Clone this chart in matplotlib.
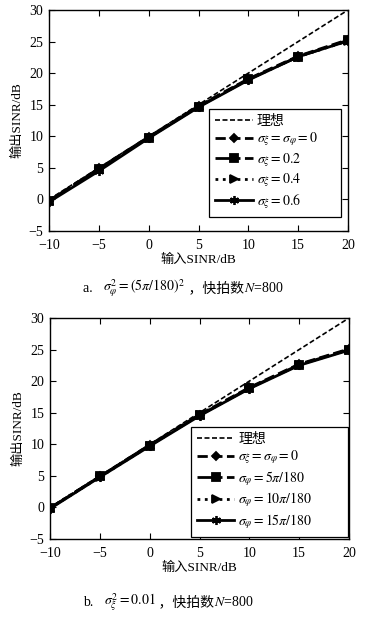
#!/usr/bin/env python3

import numpy as np
import matplotlib
matplotlib.use('Agg')
import matplotlib.pyplot as plt

plt.rcParams['font.family'] = ['Liberation Serif', 'Noto Sans CJK SC']
plt.rcParams['mathtext.fontset'] = 'stix'
plt.rcParams['axes.unicode_minus'] = True

# input SINR (dB)
x_in = [-10, -5, 0, 5, 10, 15, 20]
ideal_x = [-10, 20]
ideal_y = [0, 30]

# panel a: sigma_phi^2 = (5pi/180)^2, varying sigma_xi
a_s0 = [-0.2, 4.9, 9.9, 14.8, 19.1, 22.7, 25.3]
a_s2 = [-0.2, 4.8, 9.8, 14.7, 19.0, 22.6, 25.2]
a_s4 = [-0.3, 4.7, 9.8, 14.7, 19.0, 22.6, 25.1]
a_s6 = [-0.4, 4.5, 9.7, 14.6, 18.9, 22.6, 25.1]
a_labels = ['理想', r'$\sigma_\xi=\sigma_\varphi=0$', r'$\sigma_\xi=0.2$',
            r'$\sigma_\xi=0.4$', r'$\sigma_\xi=0.6$']

# panel b: sigma_xi^2 = 0.01, varying sigma_phi
b_s0 = [-0.1, 4.9, 9.9, 14.7, 19.0, 22.7, 25.1]
b_s5 = [-0.1, 4.9, 9.8, 14.6, 18.9, 22.6, 25.0]
b_s10 = [-0.1, 4.8, 9.8, 14.6, 18.9, 22.6, 25.0]
b_s15 = [-0.2, 4.8, 9.7, 14.5, 18.8, 22.5, 24.9]
b_labels = ['理想', r'$\sigma_\xi=\sigma_\varphi=0$', r'$\sigma_\varphi=5\pi/180$',
            r'$\sigma_\varphi=10\pi/180$', r'$\sigma_\varphi=15\pi/180$']

W, H = 366, 617
fig = plt.figure(figsize=(W / 100, H / 100), dpi=100)


def draw_panel(ax, series, labels, legend_box):
    ax.plot(ideal_x, ideal_y, color='black', ls=(0, (3, 1.5)), lw=1.2, label=labels[0])
    styles = [('--', 'D', 4.5), ('-.', 's', 5.5), (':', '>', 5.5), ('-', (6, 2, 0), 6.5)]
    for ys, lab, (ls, mk, ms) in zip(series, labels[1:], styles):
        ax.plot(x_in, ys, color='black', ls=ls, lw=2.0, marker=mk, ms=ms,
                mew=1.3, mfc='black', mec='black', label=lab)
    ax.set_xlim(-10, 20)
    ax.set_ylim(-5, 30)
    ax.set_xticks(np.arange(-10, 21, 5))
    ax.set_yticks(np.arange(-5, 31, 5))
    ax.tick_params(direction='in', top=True, right=True, length=4,
                   width=0.8, labelsize=10)
    ax.tick_params(axis='x', pad=6)
    ax.tick_params(axis='y', pad=4)
    for s in ax.spines.values():
        s.set_linewidth(1.0)
    ax.set_xlabel('输入SINR/dB', fontsize=9.5, labelpad=1)
    ax.set_ylabel('输出SINR/dB', fontsize=9.5, labelpad=4)
    leg = ax.legend(loc='lower left', bbox_to_anchor=legend_box, mode='expand',
                    borderaxespad=0, fontsize=10, handlelength=2.7,
                    handletextpad=0.3, labelspacing=0.2, fancybox=False,
                    edgecolor='black', framealpha=1, borderpad=0.45)
    leg.get_frame().set_linewidth(0.9)


ax1 = fig.add_axes([49 / W, 1 - 231 / H, 299 / W, 221 / H])
draw_panel(ax1, [a_s0, a_s2, a_s4, a_s6], a_labels, (0.535, 0.063, 0.442, 0.4))

ax2 = fig.add_axes([50 / W, 1 - 539 / H, 299 / W, 221 / H])
draw_panel(ax2, [b_s0, b_s5, b_s10, b_s15], b_labels, (0.47, 0.009, 0.527, 0.4))


def caption(parts, x0, y0):
    fig.canvas.draw()
    r = fig.canvas.get_renderer()
    x = x0
    for p in parts:
        t = fig.text(x / W, 1 - y0 / H, p, fontsize=10, va='center', ha='left')
        bb = t.get_window_extent(renderer=r)
        x += bb.width


caption(['a.   ', r'$\sigma_\varphi^2=(5\pi/180)^2$', ' ，快拍数', r'$N$=800'], 83, 288)
caption(['b.   ', r'$\sigma_\xi^2=0.01$', ' ，快拍数', r'$N$=800'], 83, 602)

fig.savefig('out.png', dpi=100)
